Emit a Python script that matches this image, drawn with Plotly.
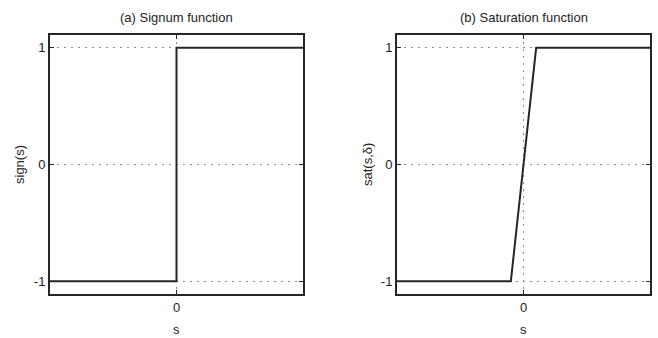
import plotly.graph_objects as go

# Signum and saturation functions (boundary layer width delta = 0.1)
s_sign = [-1, 0, 0, 1]
y_sign = [-1, -1, 1, 1]
s_sat = [-1, -0.1, 0.1, 1]
y_sat = [-1, -1, 1, 1]

titles = ["(a) Signum function", "(b) Saturation function"]
ylabels = ["sign(s)", "sat(s,δ)"]
xlabel = "s"
y_ticks = [-1, 0, 1]
x_ticks = [0]

W, H = 658, 338
ink = "#1e1e1e"
font = dict(family="Liberation Sans, Arial, sans-serif", size=13, color=ink)

fig = go.Figure()
fig.add_trace(go.Scatter(x=s_sign, y=y_sign, mode="lines",
                         line=dict(color="#262626", width=2), xaxis="x", yaxis="y",
                         showlegend=False, hoverinfo="skip"))
fig.add_trace(go.Scatter(x=s_sat, y=y_sat, mode="lines",
                         line=dict(color="#262626", width=2), xaxis="x2", yaxis="y2",
                         showlegend=False, hoverinfo="skip"))

xdoms = [[50 / W, 303 / W], [397 / W, 650 / W]]
ydom = [1 - 294 / H, 1 - 35 / H]

axis_common = dict(
    showline=True, mirror="ticks", linecolor="#262626", linewidth=2,
    ticks="inside", ticklen=4, tickwidth=1, tickcolor="#262626",
    showgrid=True, gridcolor="#8a8a8a", griddash="2px,5px", gridwidth=1,
    zeroline=False, tickfont=font,
)

layout = dict(
    width=W, height=H, margin=dict(l=0, r=0, t=0, b=0),
    paper_bgcolor="white", plot_bgcolor="white", font=font,
)
for i in range(2):
    sx = "" if i == 0 else "2"
    layout["xaxis" + sx] = dict(axis_common, domain=xdoms[i], range=[-1, 1],
                                tickvals=x_ticks, ticktext=["0"],
                                anchor="y" + sx)
    layout["yaxis" + sx] = dict(axis_common, domain=ydom, range=[-1.11, 1.11],
                                tickvals=y_ticks, ticktext=["-1", "0", "1"],
                                anchor="x" + sx)
fig.update_layout(**layout)

ann = []
ylab_x = [20, 368]
for i in range(2):
    cx = (xdoms[i][0] + xdoms[i][1]) / 2
    ann.append(dict(text=titles[i], x=cx, y=1 - 17 / H, xref="paper", yref="paper",
                    xanchor="center", yanchor="middle",
                    showarrow=False, font=font))
    ann.append(dict(text=xlabel, x=cx, y=1 - 329 / H, xref="paper", yref="paper",
                    xanchor="center", yanchor="middle",
                    showarrow=False, font=font))
    ann.append(dict(text=ylabels[i], x=ylab_x[i] / W, y=1 - 165 / H,
                    xref="paper", yref="paper", textangle=-90,
                    xanchor="center", yanchor="middle",
                    showarrow=False, font=font))
fig.update_layout(annotations=ann)

fig.write_html("out.html")
